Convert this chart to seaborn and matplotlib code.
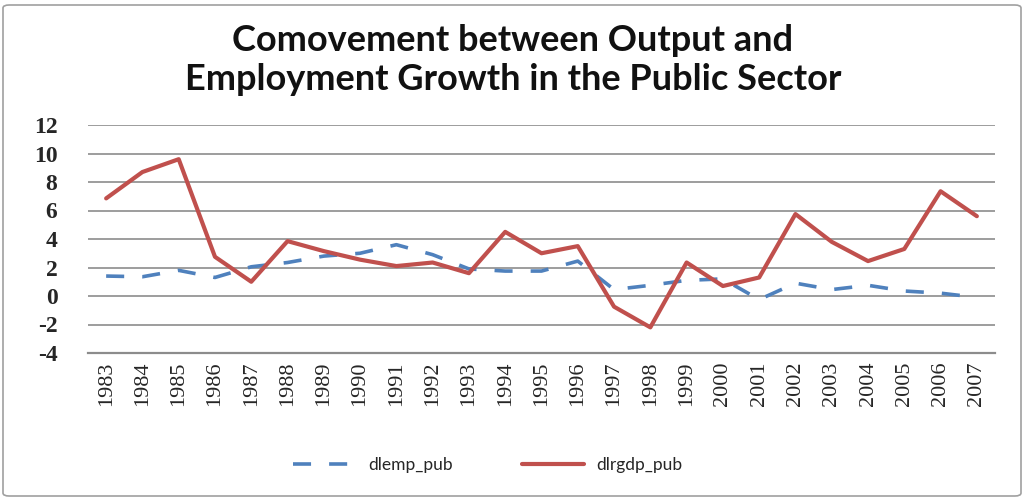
import matplotlib
matplotlib.use("Agg")
import matplotlib.pyplot as plt
import seaborn as sns
import pandas as pd
from matplotlib.patches import FancyBboxPatch

years = list(range(1983, 2008))
dlemp_pub = [1.4, 1.35, 1.8, 1.3, 2.05, 2.35, 2.8, 3.0, 3.6, 2.9, 1.9, 1.75,
             1.75, 2.45, 0.45, 0.75, 1.1, 1.2, -0.25, 0.9, 0.45, 0.75, 0.35, 0.2, -0.1]
dlrgdp_pub = [6.85, 8.7, 9.6, 2.75, 1.0, 3.85, 3.15, 2.55, 2.1, 2.35, 1.6, 4.5,
              3.0, 3.5, -0.75, -2.2, 2.35, 0.7, 1.3, 5.75, 3.8, 2.45, 3.3, 7.35, 5.6]
y_ticks = [-4, -2, 0, 2, 4, 6, 8, 10, 12]
title = "Comovement between Output and\nEmployment Growth in the Public Sector"

df = pd.DataFrame({"year": years, "dlemp_pub": dlemp_pub, "dlrgdp_pub": dlrgdp_pub})
long = df.melt(id_vars="year", var_name="series", value_name="value")

sns.set_theme(style="white")
plt.rcParams["font.family"] = ["Lato", "DejaVu Sans"]

fig = plt.figure(figsize=(10.26, 5.0), dpi=100)
ax = fig.add_axes([88 / 1026, 1 - 353 / 500, (995 - 88) / 1026, (353 - 125) / 500])

palette = {"dlemp_pub": "#4F81BD", "dlrgdp_pub": "#C0504D"}
sns.lineplot(data=long[long.series == "dlemp_pub"], x="year", y="value", ax=ax,
             color=palette["dlemp_pub"], lw=2.6, label="dlemp_pub")
sns.lineplot(data=long[long.series == "dlrgdp_pub"], x="year", y="value", ax=ax,
             color=palette["dlrgdp_pub"], lw=3.0, label="dlrgdp_pub")
ax.lines[0].set_dashes([5, 5])

ax.set_xlim(years[0] - 0.5, years[-1] + 0.5)
ax.set_ylim(-4, 12)
ax.set_yticks(y_ticks)
ax.set_yticklabels([str(t) for t in y_ticks], fontfamily="Liberation Serif",
                   fontweight="bold", fontsize=17)
ax.set_xticks(years)
ax.set_xticklabels([str(y) for y in years], rotation=90, fontfamily="Liberation Serif",
                   fontsize=16)
ax.tick_params(axis="both", length=0, pad=6)
ax.tick_params(axis="y", pad=22)
ax.set_xlabel("")
ax.set_ylabel("")
ax.grid(axis="y", color="#8c8c8c", lw=1.2)
ax.set_axisbelow(True)
for s in ["left", "right", "top"]:
    ax.spines[s].set_visible(False)
ax.spines["bottom"].set_color("#8c8c8c")
ax.spines["bottom"].set_linewidth(1.6)

handles, labels = ax.get_legend_handles_labels()
ax.legend(handles, labels, loc="center", bbox_to_anchor=(488 / 1026, 1 - 465 / 500),
          bbox_transform=fig.transFigure, ncol=2, frameon=False, fontsize=12.5,
          handlelength=3.6, columnspacing=4.0, handletextpad=0.7)

fig.text(513 / 1026, 1 - 60 / 500, title, ha="center", va="center", fontsize=26,
         fontweight="bold", linespacing=1.2, color="#111111")

border = FancyBboxPatch((3 / 1026, 4 / 500), 1018 / 1026, 491 / 500,
                        boxstyle="round,pad=0,rounding_size=0.006",
                        transform=fig.transFigure, fill=False, edgecolor="#a0a0a0", lw=1.2)
fig.patches.append(border)

fig.savefig("out.png", dpi=100)
